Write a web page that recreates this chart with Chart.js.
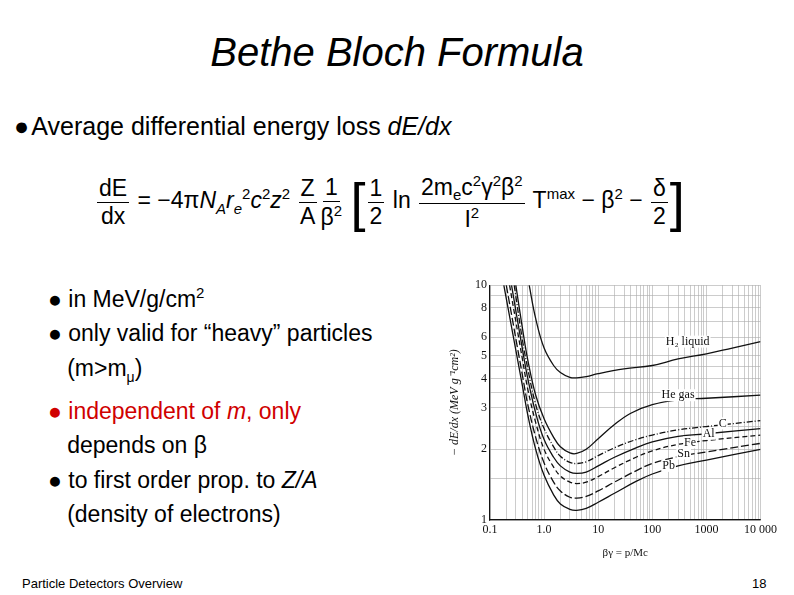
<!DOCTYPE html>
<html><head><meta charset="utf-8">
<script src="https://cdn.jsdelivr.net/npm/chart.js@4/dist/chart.umd.min.js"></script>
<style>
body{margin:0;width:794px;height:595px;background:#fff;font-family:"Liberation Sans",Arial,sans-serif;position:relative;overflow:hidden}
.a{position:absolute;white-space:nowrap}
#title{left:0;width:794px;text-align:center;top:30px;font-size:40px;font-style:italic}
.big{font-size:25px}
.b{font-size:23px;line-height:34.5px}
.f{font-size:23px}
.frac{display:inline-flex;flex-direction:column;align-items:center;vertical-align:middle;margin:0 2px}
.frac span:first-child{border-bottom:1.5px solid #000;padding:0 2px}
sup,sub{font-size:15px}
</style></head><body>
<div class="a" id="title">Bethe Bloch Formula</div>
<div class="a big" style="left:14px;top:112px">&#9679;<span style="font-size:8px"> </span> Average differential energy loss <i>dE/dx</i></div>
<div class="a f" style="left:95px;top:171px">
<span class="frac"><span>dE</span><span>dx</span></span> = &minus;4&pi;<i>N<sub>A</sub>r</i><sub><i>e</i></sub><sup>2</sup><i>c</i><sup>2</sup><i>z</i><sup>2</sup>
<span class="frac"><span>Z</span><span>A</span></span><span class="frac"><span>1</span><span>&beta;<sup>2</sup></span></span>
<span style="font-size:54px;font-weight:100;vertical-align:middle">[</span><span class="frac"><span>1</span><span>2</span></span> ln <span class="frac"><span>2m<sub>e</sub>c<sup>2</sup>&gamma;<sup>2</sup>&beta;<sup>2</sup></span><span>I<sup>2</sup></span></span> T<sup>max</sup> &minus; &beta;<sup>2</sup> &minus; <span class="frac"><span>&delta;</span><span>2</span></span><span style="font-size:54px;font-weight:100;vertical-align:middle">]</span>
</div>
<div class="a b" style="left:48px;top:276px">&#9679; in MeV/g/cm<sup style="font-size:15px">2</sup><br>&#9679; only valid for &ldquo;heavy&rdquo; particles<br>&nbsp;&nbsp;&nbsp;(m&gt;m<sub style="font-size:14px">&mu;</sub>)<br><span style="color:#d00000">&#9679; independent of <i>m</i>, only</span><br>&nbsp;&nbsp;&nbsp;depends on &beta;<br>&#9679; to first order prop. to <i>Z/A</i><br>&nbsp;&nbsp;&nbsp;(density of electrons)</div>
<div class="a" style="left:22px;top:576px;font-size:13px">Particle Detectors Overview</div>
<div class="a" style="left:752px;top:576px;font-size:13px">18</div>
<div class="a" style="left:448px;top:275px;width:332px;height:285px"><canvas id="c"></canvas></div>
<script>
const xTickVals = [0.1, 1, 10, 100, 1000, 10000];
const xTickLabels = ["0.1", "1.0", "10", "100", "1000", "10 000"];
const yTickVals = [1, 2, 3, 4, 5, 6, 8, 10];

const h2 = [[0.53,10],[0.7,7.2],[1,5.4],[1.5,4.55],[2,4.25],[3,4.05],[4,4.03],[6,4.08],[10,4.2],[30,4.4],[100,4.55],[300,4.85],[1000,5.1],[3000,5.4],[10000,5.75]];
const he = [[0.3,10],[0.4,6.5],[0.5,4.8],[0.7,3.4],[1,2.7],[1.5,2.25],[2,2.05],[3,1.93],[4,1.92],[6,2.0],[10,2.22],[20,2.55],[40,2.85],[100,3.1],[300,3.25],[1000,3.3],[10000,3.4]];
const carbon = [[0.28,10],[0.4,5.8],[0.5,4.4],[0.7,3.1],[1,2.45],[1.5,2.05],[2,1.87],[3,1.76],[4,1.74],[6,1.77],[10,1.88],[20,2.03],[50,2.2],[100,2.3],[300,2.42],[1000,2.5],[10000,2.65]];
const al = [[0.25,10],[0.4,5.3],[0.5,4.0],[0.7,2.85],[1,2.2],[1.5,1.85],[2,1.7],[3,1.6],[4,1.58],[6,1.6],[10,1.7],[20,1.85],[50,2.03],[100,2.15],[300,2.27],[1000,2.33],[10000,2.45]];
const fe = [[0.23,10],[0.4,4.8],[0.5,3.6],[0.7,2.6],[1,2.0],[1.5,1.68],[2,1.54],[3,1.45],[4,1.43],[6,1.45],[10,1.53],[20,1.67],[50,1.85],[100,1.97],[300,2.1],[1000,2.18],[10000,2.3]];
const sn = [[0.2,10],[0.4,4.1],[0.5,3.1],[0.7,2.25],[1,1.75],[1.5,1.45],[2,1.33],[3,1.25],[4,1.24],[6,1.26],[10,1.33],[20,1.45],[50,1.62],[100,1.74],[300,1.86],[1000,1.95],[10000,2.12]];
const pb = [[0.18,10],[0.4,3.7],[0.5,2.8],[0.7,2.0],[1,1.55],[1.5,1.28],[2,1.17],[3,1.11],[4,1.1],[6,1.12],[10,1.19],[20,1.3],[50,1.46],[100,1.57],[300,1.7],[1000,1.8],[10000,2.0]];

// curve labels: [text, x, y] in data units (label centre)
const labels = [["H\u2082 liquid",450,5.75],["He gas",300,3.4],["C",2000,2.58],["Al",1100,2.33],["Fe",500,2.14],["Sn",380,1.92],["Pb",200,1.7]];

const pts = a => a.map(p => ({x: p[0], y: p[1]}));
const ds = (d, dash) => ({data: pts(d), borderColor: "#111", borderWidth: 1.3, pointRadius: 0, tension: 0.4, borderDash: dash, fill: false});

const minorX = [];
for (let d = 0.1; d < 10000; d *= 10) for (let k = 1; k < 10; k++) minorX.push(+(d * k).toPrecision(3));
minorX.push(10000);

const labelPlugin = {
    id: "curveLabels",
    afterDatasetsDraw(chart) {
        const {ctx, scales} = chart;
        ctx.save();
        ctx.font = "12px 'Liberation Serif', serif";
        ctx.textAlign = "center";
        ctx.textBaseline = "middle";
        labels.forEach(l => {
            const x = scales.x.getPixelForValue(l[1]), y = scales.y.getPixelForValue(l[2]);
            const w = ctx.measureText(l[0]).width;
            ctx.fillStyle = "#fff";
            ctx.fillRect(x - w / 2 - 1, y - 6, w + 2, 12);
            ctx.fillStyle = "#111";
            ctx.fillText(l[0], x, y);
        });
        ctx.restore();
    }
};

new Chart(document.getElementById("c"), {
    type: "line",
    data: {datasets: [ds(h2, []), ds(he, []), ds(carbon, [6, 2, 1, 2]), ds(al, []), ds(fe, [5, 3]), ds(sn, [8, 3]), ds(pb, [])]},
    options: {
        responsive: true, maintainAspectRatio: false, animation: false,
        layout: {padding: {top: 5, right: 13}},
        plugins: {legend: {display: false}, tooltip: {enabled: false}},
        scales: {
            x: {
                type: "logarithmic", min: 0.1, max: 10000,
                afterBuildTicks: s => { s.ticks = minorX.map(v => ({value: v})); },
                afterFit: s => { s.height = 40; },
                ticks: {autoSkip: false, maxRotation: 0, color: "#111", font: {family: "'Liberation Serif', serif", size: 12},
                    callback: (v) => { const i = xTickVals.findIndex(t => Math.abs(t - v) < 1e-9 * v); return i >= 0 ? xTickLabels[i] : ""; }},
                grid: {color: "#aaa", lineWidth: 0.6, borderDash: [1, 2], drawTicks: false},
                border: {color: "#111", width: 1.2},
                title: {display: true, text: "\u03b2\u03b3 = p/Mc", color: "#111", font: {family: "'Liberation Serif', serif", size: 11}, padding: 0}
            },
            y: {
                type: "logarithmic", min: 1, max: 10,
                afterBuildTicks: s => { s.ticks = [1,1.5,2,2.5,3,3.5,4,4.5,5,6,7,8,9,10].map(v => ({value: v})); },
                afterFit: s => { s.width = 42; },
                ticks: {autoSkip: false, color: "#111", font: {family: "'Liberation Serif', serif", size: 12},
                    callback: v => yTickVals.includes(v) ? String(v) : ""},
                grid: {color: "#aaa", lineWidth: 0.6, borderDash: [1, 2], drawTicks: false},
                border: {color: "#111", width: 1.2},
                title: {display: true, text: "\u2212 dE/dx (MeV g\u207b\u00b9cm\u00b2)", color: "#111", font: {family: "'Liberation Serif', serif", size: 12, style: "italic"}, padding: 0}
            }
        }
    },
    plugins: [labelPlugin]
});
</script>
</body></html>
